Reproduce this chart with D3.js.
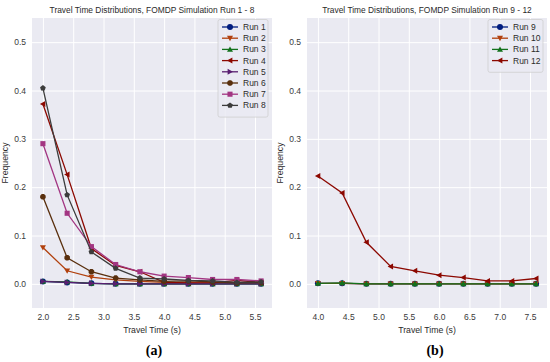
<!DOCTYPE html>
<html>
<head>
<meta charset="utf-8">
<script src="https://cdn.jsdelivr.net/npm/d3@7"></script>
<style>
  body { margin: 0; background: #fff; }
  text { font-family: "Liberation Sans", Arial, sans-serif; }
</style>
</head>
<body>
<svg id="chart" width="550" height="362"></svg>
<script>
// x values (travel time, s)
var timesA = [2.0, 2.4, 2.8, 3.2, 3.6, 4.0, 4.4, 4.8, 5.2, 5.6];
var timesB = [4.0, 4.4, 4.8, 5.2, 5.6, 6.0, 6.4, 6.8, 7.2, 7.6];

// series
var run1 = [0.005, 0.003, 0.001, 0.000, 0.000, 0.000, 0.000, 0.000, 0.000, 0.000];
var run2 = [0.075, 0.027, 0.014, 0.008, 0.005, 0.003, 0.002, 0.002, 0.002, 0.002];
var run3 = [0.005, 0.004, 0.001, 0.000, 0.000, 0.000, 0.000, 0.000, 0.000, 0.000];
var run4 = [0.372, 0.226, 0.073, 0.038, 0.025, 0.003, 0.002, 0.002, 0.007, 0.003];
var run5 = [0.005, 0.003, 0.001, 0.000, 0.000, 0.000, 0.000, 0.000, 0.000, 0.000];
var run6 = [0.180, 0.054, 0.025, 0.012, 0.008, 0.005, 0.006, 0.004, 0.002, 0.003];
var run7 = [0.290, 0.146, 0.077, 0.040, 0.025, 0.016, 0.013, 0.009, 0.009, 0.006];
var run8 = [0.405, 0.184, 0.066, 0.032, 0.012, 0.010, 0.007, 0.006, 0.003, 0.004];

// series
var run9  = [0.001, 0.001, 0.000, 0.000, 0.000, 0.000, 0.000, 0.000, 0.000, 0.000];
var run10 = [0.001, 0.001, 0.000, 0.000, 0.000, 0.000, 0.000, 0.000, 0.000, 0.000];
var run11 = [0.001, 0.002, 0.000, 0.000, 0.000, 0.000, 0.000, 0.000, 0.000, 0.000];
var run12 = [0.223, 0.188, 0.086, 0.036, 0.027, 0.018, 0.013, 0.006, 0.006, 0.011];

var yTicks = [0.0, 0.1, 0.2, 0.3, 0.4, 0.5];
var xTicksA = [2.0, 2.5, 3.0, 3.5, 4.0, 4.5, 5.0, 5.5];
var xTicksB = [4.0, 4.5, 5.0, 5.5, 6.0, 6.5, 7.0, 7.5];

// seaborn "dark" palette and matplotlib markers
var colors = ["#001c7f", "#b1400d", "#12711c", "#8c0800", "#591e71", "#592f0d", "#a23582", "#3c3c3c"];
var markers = ["o", "v", "^", "<", ">", "8", "s", "p"];

var svg = d3.select("#chart");

function markerPath(m, r) {
    var pts;
    if (m == "v") pts = [[-r, -r * 0.8], [r, -r * 0.8], [0, r]];
    if (m == "^") pts = [[-r, r * 0.8], [r, r * 0.8], [0, -r]];
    if (m == "<") pts = [[r * 0.8, -r], [r * 0.8, r], [-r, 0]];
    if (m == ">") pts = [[-r * 0.8, -r], [-r * 0.8, r], [r, 0]];
    if (m == "s") pts = [[-r * 0.85, -r * 0.85], [r * 0.85, -r * 0.85], [r * 0.85, r * 0.85], [-r * 0.85, r * 0.85]];
    if (m == "8" || m == "p") {
        var n = m == "8" ? 8 : 5;
        pts = d3.range(n).map(function(i) {
            var a = -Math.PI / 2 + i * 2 * Math.PI / n + (n == 8 ? Math.PI / 8 : 0);
            return [r * Math.cos(a), r * Math.sin(a)];
        });
    }
    return "M" + pts.map(function(p) { return p.join(","); }).join("L") + "Z";
}

function drawMarker(g, m, x, y, color, r) {
    if (m == "o") {
        g.append("circle").attr("cx", x).attr("cy", y).attr("r", r).attr("fill", color);
    } else {
        g.append("path").attr("transform", "translate(" + x + "," + y + ")")
            .attr("d", markerPath(m, r)).attr("fill", color);
    }
}

function panel(opts) {
    var x = d3.scaleLinear().domain(opts.xDomain).range([opts.left, opts.right]);
    var y = d3.scaleLinear().domain([-0.05, 0.55]).range([308, 18]);
    var g = svg.append("g");

    g.append("rect").attr("x", opts.left).attr("y", 18)
        .attr("width", opts.right - opts.left).attr("height", 290).attr("fill", "#eaeaf2");

    var gx = g.append("g").attr("transform", "translate(0,308)")
        .call(d3.axisBottom(x).tickValues(opts.xTicks).tickFormat(d3.format(".1f")).tickSize(-290).tickPadding(6));
    var gy = g.append("g").attr("transform", "translate(" + opts.left + ",0)")
        .call(d3.axisLeft(y).tickValues(yTicks).tickFormat(d3.format(".1f")).tickSize(-(opts.right - opts.left)).tickPadding(6));
    [gx, gy].forEach(function(a) {
        a.select(".domain").remove();
        a.selectAll(".tick line").attr("stroke", "#fff").attr("stroke-width", 1);
        a.selectAll(".tick text").attr("fill", "#3a3a3a").style("font-size", "8.5px");
    });

    var line = d3.line().x(function(d) { return x(d[0]); }).y(function(d) { return y(d[1]); });
    opts.series.forEach(function(s, i) {
        var pts = opts.times.map(function(t, j) { return [t, s[j]]; });
        g.append("path").datum(pts).attr("d", line).attr("fill", "none")
            .attr("stroke", colors[i]).attr("stroke-width", 1.3);
        pts.forEach(function(p) { drawMarker(g, markers[i], x(p[0]), y(p[1]), colors[i], 3); });
    });

    var cx = (opts.left + opts.right) / 2;
    g.append("text").attr("x", cx).attr("y", 13).attr("text-anchor", "middle")
        .attr("fill", "#2a2a2a").style("font-size", "8.4px").text(opts.title);
    g.append("text").attr("x", cx).attr("y", 333).attr("text-anchor", "middle")
        .attr("fill", "#2a2a2a").style("font-size", "8.7px").text("Travel Time (s)");
    g.append("text").attr("transform", "translate(" + (opts.left - 24.5) + ",163) rotate(-90)")
        .attr("text-anchor", "middle").attr("fill", "#2a2a2a").style("font-size", "8.7px").text("Frequency");
    g.append("text").attr("x", opts.capX).attr("y", 355).attr("text-anchor", "middle")
        .style("font-family", "'Liberation Serif', 'DejaVu Serif', serif").style("font-weight", "bold")
        .style("font-size", "14px").attr("fill", "#000").text(opts.caption);

    // legend
    var lg = g.append("g");
    var n = opts.names.length;
    lg.append("rect").attr("x", opts.legX).attr("y", 19.5).attr("width", opts.legW).attr("height", 8 + n * 11.2)
        .attr("rx", 2).attr("fill", "#eaeaf2").attr("fill-opacity", 0.8).attr("stroke", "#ccc").attr("stroke-width", 0.7);
    opts.names.forEach(function(nm, i) {
        var ly = 27 + i * 11.2;
        lg.append("line").attr("x1", opts.legX + 4).attr("x2", opts.legX + 20).attr("y1", ly).attr("y2", ly)
            .attr("stroke", colors[i]).attr("stroke-width", 1.3);
        drawMarker(lg, markers[i], opts.legX + 12, ly, colors[i], 3);
        lg.append("text").attr("x", opts.legX + 25).attr("y", ly + 3).attr("fill", "#2a2a2a")
            .style("font-size", "8.5px").text(nm);
    });
}

panel({
    left: 32, right: 272, xDomain: [1.82, 5.78], xTicks: xTicksA, times: timesA,
    series: [run1, run2, run3, run4, run5, run6, run7, run8],
    names: ["Run 1", "Run 2", "Run 3", "Run 4", "Run 5", "Run 6", "Run 7", "Run 8"],
    title: "Travel Time Distributions, FOMDP Simulation Run 1 - 8",
    caption: "(a)", capX: 154, legX: 218, legW: 50
});
panel({
    left: 307, right: 547, xDomain: [3.82, 7.78], xTicks: xTicksB, times: timesB,
    series: [run9, run10, run11, run12],
    names: ["Run 9", "Run 10", "Run 11", "Run 12"],
    title: "Travel Time Distributions, FOMDP Simulation Run 9 - 12",
    caption: "(b)", capX: 435, legX: 488, legW: 55
});
</script>
</body>
</html>
